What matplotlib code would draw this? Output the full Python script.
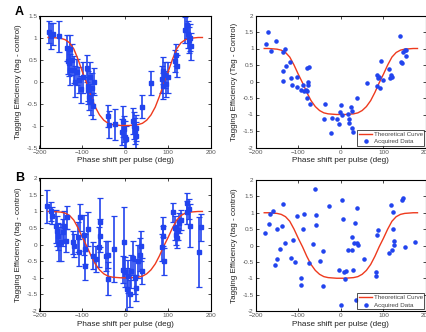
import numpy as np
import matplotlib
matplotlib.use("Agg")
import matplotlib.pyplot as plt

plt.rcParams['font.family'] = ['Liberation Sans', 'DejaVu Sans']

# theoretical curve
curve_deg = [-180, -170, -160, -150, -140, -130, -120, -110, -100, -90, -80, -70, -60, -50, -40, -30, -20, -10,
             0, 10, 20, 30, 40, 50, 60, 70, 80, 90, 100, 110, 120, 130, 140, 150, 160, 170, 180]
curve_eff = [1.0, 1.0, 0.99, 0.98, 0.95, 0.88, 0.74, 0.5, 0.22, -0.04, -0.33, -0.58, -0.76, -0.88, -0.95, -0.98, -0.99, -1.0,
             -1.0, -1.0, -0.99, -0.98, -0.95, -0.88, -0.76, -0.58, -0.33, -0.04, 0.22, 0.5, 0.74, 0.88, 0.95, 0.98, 0.99, 1.0, 1.0]

# panel A, left (mean +/- error)
a_deg = [-178, -174, -168, -155, -136, -134, -132, -130, -128, -124, -120, -117, -112, -107, -103, -98,
         -90, -88, -86, -84, -82, -80, -78, -76, -74, -40, -38, -25, -8, -5, -3, 0, 2,
         18, 20, 22, 24, 26, 40, 61, 85, 87, 89, 92, 95, 99, 116, 118, 120, 140, 143, 146, 149, 152, 154]
a_eff = [1.12, 1.03, 1.09, 1.03, 0.76, 0.46, 0.42, 0.27, 0.75, 0.5, 0.27, 0.0, 0.22, 0.04, -0.18, 0.1,
         0.3, -0.1, -0.2, -0.35, 0.1, -0.45, -0.15, -0.55, 0.0, -0.78, -0.98, -0.97, -1.15, -0.9, -1.08, -1.25, -1.3,
         -0.9, -1.0, -1.12, -1.23, -1.05, -0.57, -0.03, 0.05, 0.25, -0.1, 0.15, -0.05, 0.1, 0.46, 0.6, 0.36,
         1.17, 1.28, 1.07, 0.94, 1.0, 0.8]
a_err = [0.25, 0.3, 0.25, 0.35, 0.3, 0.3, 0.3, 0.35, 0.3, 0.35, 0.3, 0.35, 0.3, 0.3, 0.3, 0.35,
         0.3, 0.35, 0.3, 0.3, 0.35, 0.3, 0.35, 0.3, 0.3, 0.25, 0.3, 0.35, 0.3, 0.35, 0.3, 0.35, 0.3,
         0.3, 0.3, 0.3, 0.3, 0.3, 0.27, 0.27, 0.3, 0.3, 0.3, 0.3, 0.3, 0.35, 0.25, 0.25, 0.25,
         0.3, 0.3, 0.3, 0.3, 0.3, 0.3]

# panel A, right (acquired data)
ar_deg = [-175, -171, -164, -152, -135, -131, -130, -136, -135, -120, -117, -114, -102, -102, -94, -89, -87,
          -81, -79, -75, -76, -76, -79, -73, -80, -39, -37, -21, -24, -8, -5, 0, -2, 2, 16, 18, 20, 24, 26,
          26, 28, 39, 61, 85, 87, 90, 94, 100, 84, 92, 114, 118, 119, 116, 138, 142, 143, 146, 151, 153, 152]
ar_eff = [1.15, 1.5, 0.92, 1.23, 0.88, 0.98, 0.47, 0.33, 0.03, 0.58, 0.11, -0.11, 0.13, -0.17, -0.25, -0.11, -0.3,
          -0.25, 0.4, 0.43, -0.03, -0.12, -0.5, -0.67, -0.28, -1.13, -0.67, -1.1, -1.55, -1.13, -1.3, -0.7, -0.93,
          -1.01, -0.98, -1.15, -1.27, -0.77, -0.9, -1.4, -1.52, -0.5, -0.06, 0.2, 0.1, 0.13, 0.62, 0.06, -0.14,
          -0.2, 0.37, 0.2, 0.15, 0.1, 1.37, 0.6, 0.55, 0.88, 0.95, 0.95, 0.77]

# panel B, left (mean +/- error)
b_deg = [-182, -174, -170, -162, -160, -157, -154, -150, -146, -142, -138, -135, -122, -119, -111, -105, -107,
         -97, -94, -88, -93, -76, -68, -60, -62, -58, -46, -41, -41, -27, -5, -2, 0, 3, 6, 10, 14, 18, 22,
         26, 30, 34, 37, 40, 85, 87, 89, 91, 112, 116, 119, 121, 123, 125, 129, 143, 145, 148, 151, 171, 177]
b_eff = [1.15, 1.0, 0.87, 0.55, 0.4, 0.25, 0.02, 0.07, 0.37, 0.55, 0.12, 0.82, 0.07, -0.03, 0.22, 0.82, -0.23,
         0.3, -0.13, 0.47, -0.63, -0.33, -0.43, 0.67, -0.08, 0.27, -0.33, -0.3, -1.03, -0.13, -0.75, 0.07, -0.83,
         -1.35, -0.95, -1.48, -0.8, -0.4, -1.0, -1.3, -0.5, -0.3, -0.05, -0.8, -0.08, 0.52, 0.25, -0.5, 0.97,
         0.5, 0.3, 0.2, 0.45, 0.65, 0.75, 1.25, 0.97, 1.07, 0.57, -0.23, 0.52]
b_err = [0.5, 0.3, 0.25, 0.5, 0.45, 0.4, 0.5, 0.55, 0.4, 0.45, 0.35, 0.35, 0.35, 0.35, 0.45, 0.4, 0.4,
         0.6, 0.45, 0.5, 0.45, 0.4, 0.4, 0.75, 0.6, 0.5, 0.45, 0.4, 0.5, 1.0, 0.4, 1.05, 0.45, 0.65, 0.5, 0.4,
         0.5, 0.5, 0.5, 0.4, 0.5, 0.5, 0.45, 0.4, 0.4, 0.3, 0.3, 0.4, 0.3, 0.35, 0.3, 0.3, 0.3, 0.3, 0.3,
         0.3, 0.35, 0.3, 0.65, 1.05, 0.4]

# panel B, right (acquired data)
br_deg = [-178, -169, -167, -159, -155, -151, -151, -144, -139, -137, -131, -118, -113, -108, -104, -94, -94,
          -90, -86, -75, -65, -61, -58, -59, -49, -43, -42, -28, -5, 0, 2, 8, 10, 12, 6, 16, 27, 27, 28, 31,
          33, 37, 38, 41, 35, 54, 83, 83, 85, 88, 113, 117, 122, 121, 123, 124, 125, 143, 146, 150, 174]
br_eff = [0.37, 0.65, 0.97, 1.05, -0.61, 0.49, -0.42, -0.1, 0.61, 1.27, 0.07, -0.39, 0.17, -0.49, 0.89, -1.0, -1.22,
          0.51, 0.95, -0.54, 0.05, 1.74, 0.64, 0.93, -0.47, -0.18, -1.24, 1.22, -0.74, -1.82, 1.39, -0.81, -1.02,
          -0.79, 0.81, -0.13, 0.25, -0.15, -0.74, 0.08, 0.69, 0.07, 1.14, 0.02, -1.67, -0.4, -0.81, -0.93, 0.33,
          0.46, -0.22, 1.24, 1.02, -0.15, 0.51, 0.15, 0.03, 1.4, 1.45, -0.04, 0.1]

blue = '#2244ee'
red = '#ee3a1e'
ylab_lower = 'Tagging Efficiency (tag - control)'
ylab_upper = 'Tagging Efficiency (Tag - Control)'
xlab = 'Phase shift per pulse (deg)'

fig = plt.figure(figsize=(4.27, 3.32), dpi=100)
W, H = 427.0, 332.0


def make_ax(l, t, r, b):
    return fig.add_axes([l / W, 1 - b / H, (r - l) / W, (b - t) / H])


def style(ax, ylim, ylabel):
    ax.set_xlim(-200, 200)
    ax.set_ylim(*ylim)
    ax.set_xticks([-200, -100, 0, 100, 200])
    yt = np.arange(ylim[0], ylim[1] + 0.01, 0.5)
    ax.set_yticks(yt)
    ax.set_yticklabels(['%g' % v for v in yt])
    ax.tick_params(direction='in', length=2, width=0.5, labelsize=4.6, pad=1.5,
                   top=True, right=True, labelcolor='#555555')
    for s in ax.spines.values():
        s.set_linewidth(0.8)
    ax.set_xlabel(xlab, fontsize=5.9, labelpad=2, color='#222222')
    ax.set_ylabel(ylabel, fontsize=5.8, labelpad=3, color='#222222')


def add_legend(ax):
    leg = ax.legend(loc='lower right', fontsize=4.5, frameon=True, fancybox=False, edgecolor='black',
                    borderpad=0.25, handlelength=2.2, handletextpad=0.2, labelspacing=0.35, borderaxespad=0.25)
    leg.get_frame().set_linewidth(0.6)
    for t in leg.get_texts():
        t.set_color('#444444')


# A left
ax1 = make_ax(39.5, 15.5, 211, 147.5)
ax1.errorbar(a_deg, a_eff, yerr=a_err, fmt='s', color=blue, ms=2.2, lw=1.2, capsize=2, capthick=0.9)
ax1.plot(curve_deg, curve_eff, color=red, lw=1.0)
style(ax1, (-1.5, 1.5), ylab_lower)

# A right
ax2 = make_ax(255.7, 15.5, 426, 147.5)
ax2.plot(curve_deg, curve_eff, color=red, lw=1.0, label='Theoretical Curve')
ax2.plot(ar_deg, ar_eff, '.', color=blue, ms=4.5, label='Acquired Data')
style(ax2, (-2, 2), ylab_upper)
add_legend(ax2)

# B left
ax3 = make_ax(39.5, 178.3, 211, 311)
ax3.errorbar(b_deg, b_eff, yerr=b_err, fmt='s', color=blue, ms=2.2, lw=1.2, capsize=2, capthick=0.9)
ax3.plot(curve_deg, curve_eff, color=red, lw=1.0)
style(ax3, (-2, 2), ylab_lower)

# B right
ax4 = make_ax(255.7, 180, 426, 311)
ax4.plot(curve_deg, curve_eff, color=red, lw=1.0, label='Theoretical Curve')
ax4.plot(br_deg, br_eff, '.', color=blue, ms=4.5, label='Acquired Data')
style(ax4, (-2, 2), ylab_lower)
add_legend(ax4)

fig.text(15 / W, 1 - 15 / H, 'A', fontsize=9, fontweight='bold')
fig.text(15 / W, 1 - 181 / H, 'B', fontsize=9, fontweight='bold')

fig.savefig('out.png', dpi=100)
